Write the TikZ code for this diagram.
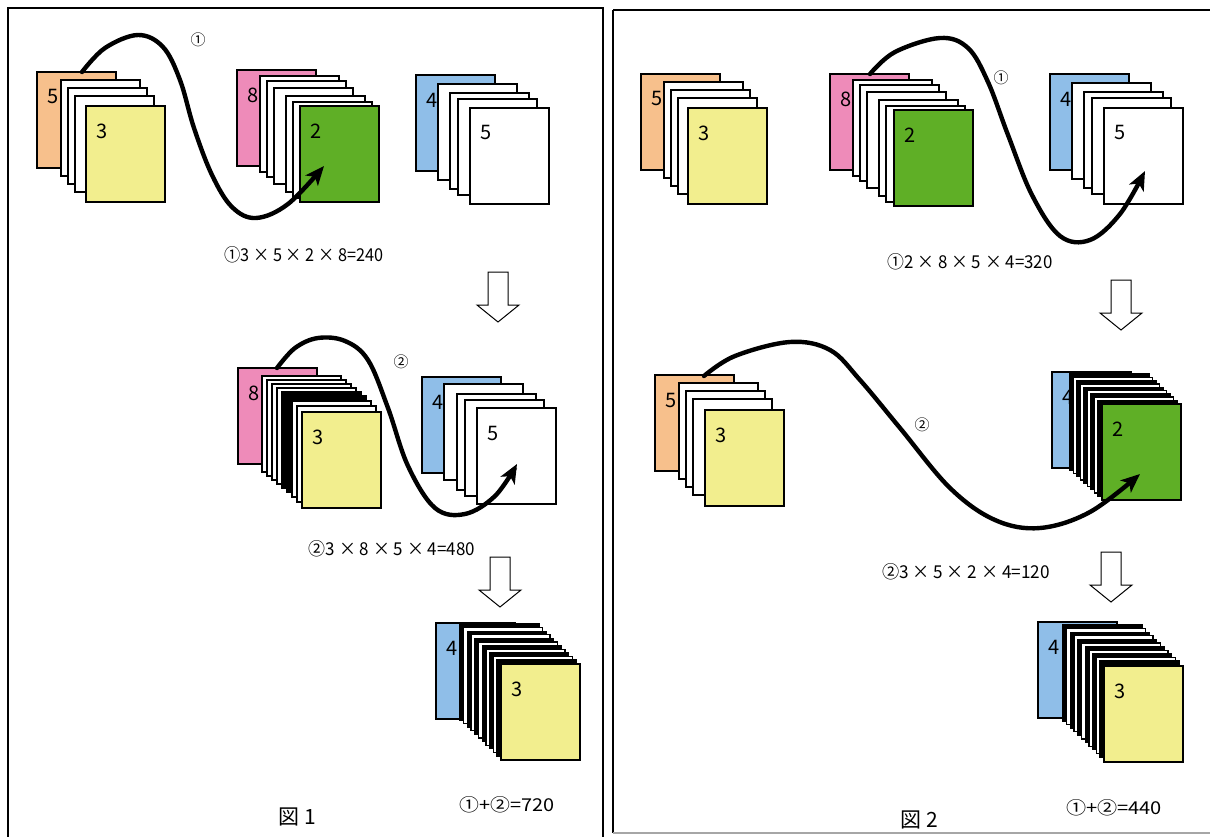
\documentclass[tikz,border=0pt]{standalone}
\usepackage{fontspec}
\newfontfamily\jp{Noto Sans CJK JP}
\usetikzlibrary{arrows.meta,calc}
\definecolor{corange}{HTML}{F7C08C}
\definecolor{cyellow}{HTML}{F2EE8E}
\definecolor{cpink}{HTML}{EE8BB9}
\definecolor{cgreen}{HTML}{5FAF26}
\definecolor{cblue}{HTML}{8FBEE8}
\tikzset{
  sheet/.style={draw=black, line width=1.3pt, minimum width=79pt, minimum height=96pt,
    anchor=north west, inner sep=0pt, outer sep=0pt},
  num/.style={font=\jp\fontsize{20}{20}\selectfont, inner sep=0pt},
  formula/.style={font=\jp\fontsize{17}{17}\selectfont, inner sep=0pt},
  caption/.style={font=\jp\fontsize{21}{21}\selectfont, inner sep=0pt},
  circ/.style={font=\jp\fontsize{15}{15}\selectfont, inner sep=0pt},
  curve/.style={line width=4.4pt, line cap=round, -{Stealth[length=19pt,width=16pt,inset=5pt]}},
  panel/.style={draw=black, line width=1.3pt},
  blockarr/.style={draw=black, line width=1pt, fill=white, line join=miter}
}
\newcommand\ftext[2]{\resizebox{#1pt}{15pt}{#2}}
\newcommand\sheetnode[5]{%
  \node[sheet, fill=#4] (#1) at (#2,#3) {};
  \node[num] (#1t) at ($(#1.north west)+(16,25)$) {#5};}
\newcommand\plainsheet[4]{\node[sheet, fill=#4] (#1) at (#2,#3) {};}
\newcommand\blockarrow[3]{% name, cx, ytop
  \coordinate (#1) at (#2,#3);
  \draw[blockarr] ($(#1)+(-10,0)$) -- ($(#1)+(10,0)$) -- ($(#1)+(10,33)$) -- ($(#1)+(21,33)$)
    -- ($(#1)+(0,50)$) -- ($(#1)+(-21,33)$) -- ($(#1)+(-10,33)$) -- cycle;}
\begin{document}
\begin{tikzpicture}[x=1pt,y=-1pt]
\useasboundingbox (0,0) rectangle (1210,837);
\fill[white] (0,0) rectangle (1210,837);
\clip (0,0) rectangle (1210,837);
% panels
\draw[panel] (8,8) rectangle (603,850);
\draw[panel] (613,10) -- (1215,10);
\draw[panel] (613,10) -- (613,833);
\draw[line width=1.3pt, draw=gray!70] (613,833) -- (1215,833);

% ================= PANEL 1 =================
% stack A
\sheetnode{A0}{37}{72}{corange}{5}
\plainsheet{A1}{61}{80}{white}
\plainsheet{A2}{68}{88}{white}
\plainsheet{A3}{75}{96}{white}
\sheetnode{A4}{86}{106}{cyellow}{3}
% stack B
\sheetnode{B0}{237}{70}{cpink}{8}
\plainsheet{B1}{260}{76}{white}
\plainsheet{B2}{267}{81}{white}
\plainsheet{B3}{274}{88}{white}
\plainsheet{B4}{286}{96}{white}
\plainsheet{B5}{293}{102}{white}
\sheetnode{B6}{300}{106}{cgreen}{2}
% stack C
\sheetnode{C0}{416}{75}{cblue}{4}
\plainsheet{C1}{438}{84}{white}
\plainsheet{C2}{450}{93}{white}
\plainsheet{C3}{458}{99}{white}
\sheetnode{C4}{470}{108}{white}{5}
% curve 1
\coordinate (p1s) at ($(A0.north west)+(45,0)$);
\coordinate (p1e) at ($(B6.north west)+(24,60)$);
\draw[curve] plot[smooth, tension=0.6] coordinates {(p1s) (105,48) (138,35) (163,47) (180,80) (194,128) (212,175) (232,207) (256,218) (288,204) (p1e)};
\node[circ] (l1a) at (198,40) {①};
\node[formula] (f1) at (304,255) {\ftext{159}{①3 × 5 × 2 × 8=240}};
\blockarrow{d1}{498}{272}

% stack D
\sheetnode{D0}{238}{368}{cpink}{8}
\foreach \xx/\yy/\cc [count=\i] in {262/376/white,267/380/white,272/384/white,277/388/white,282/392/black,287/396/black,292/401/white,297/406/white}{
  \node[sheet, fill=\cc] (D\i) at (\xx,\yy) {};
}
\sheetnode{D9}{302}{412}{cyellow}{3}
% stack E
\sheetnode{E0}{422}{377}{cblue}{4}
\plainsheet{E1}{444}{384}{white}
\plainsheet{E2}{457}{394}{white}
\plainsheet{E3}{465}{400}{white}
\sheetnode{E4}{477}{408}{white}{5}
% curve 2
\coordinate (p2s) at ($(D0.north west)+(39,0)$);
\coordinate (p2e) at ($(E4.north west)+(40,56)$);
\draw[curve] plot[smooth, tension=0.6] coordinates {(p2s) (295,348) (318,338) (345,341) (368,360) (388,408) (408,466) (435,508) (465,514) (495,496) (p2e)};
\node[circ] (l2a) at (401,362) {②};
\node[formula] (f2) at (392,549) {\ftext{166}{②3 × 8 × 5 × 4=480}};
\blockarrow{d2}{500}{557}

% stack F
\sheetnode{F0}{436}{623}{cblue}{4}
\foreach \i in {0,...,10}{
  \pgfmathsetmacro\xx{460+3.7*\i}
  \pgfmathsetmacro\yy{624+3.6*\i}
  \pgfmathtruncatemacro\od{mod(\i,2)}
  \ifnum\od=0 \def\cc{black}\else\def\cc{white}\fi
  \node[sheet, fill=\cc] (F\i x) at (\xx,\yy) {};
}
\sheetnode{F12}{501}{664}{cyellow}{3}
\node[formula] (s1) at (507,805) {\ftext{95}{①+②=720}};
\node[caption] (cap1) at (297,817) {図 1};

% ================= PANEL 2 =================
% stack G
\sheetnode{G0}{641}{74}{corange}{5}
\plainsheet{G1}{664}{82}{white}
\plainsheet{G2}{671}{90}{white}
\plainsheet{G3}{678}{98}{white}
\sheetnode{G4}{688}{108}{cyellow}{3}
% stack H
\sheetnode{H0}{830}{74}{cpink}{8}
\plainsheet{H1}{853}{80}{white}
\plainsheet{H2}{860}{85}{white}
\plainsheet{H3}{867}{92}{white}
\plainsheet{H4}{879}{100}{white}
\plainsheet{H5}{886}{106}{white}
\sheetnode{H6}{894}{110}{cgreen}{2}
% stack I
\sheetnode{I0}{1050}{74}{cblue}{4}
\plainsheet{I1}{1072}{83}{white}
\plainsheet{I2}{1084}{92}{white}
\plainsheet{I3}{1092}{98}{white}
\sheetnode{I4}{1104}{108}{white}{5}
% curve 1 (panel 2)
\coordinate (q1s) at ($(H0.north west)+(40,0)$);
\coordinate (q1e) at ($(I4.north west)+(41,63)$);
\draw[curve] plot[smooth, tension=0.6] coordinates {(q1s) (895,52) (940,38) (968,48) (988,82) (1008,135) (1032,195) (1060,236) (1090,240) (1120,214) (q1e)};
\node[circ] (l1b) at (1001,78) {①};
\node[formula] (f3) at (970,262) {\ftext{165}{①2 × 8 × 5 × 4=320}};
\blockarrow{d3}{1121}{280}

% stack J
\sheetnode{J0}{655}{375}{corange}{5}
\plainsheet{J1}{679}{383}{white}
\plainsheet{J2}{686}{391}{white}
\plainsheet{J3}{693}{399}{white}
\sheetnode{J4}{705}{410}{cyellow}{3}
% stack K
\sheetnode{K0}{1052}{372}{cblue}{4}
\foreach \i in {0,...,8}{
  \pgfmathsetmacro\xx{1070+3.5*\i}
  \pgfmathsetmacro\yy{374+3.3*\i}
  \pgfmathtruncatemacro\od{mod(\i,2)}
  \ifnum\od=0 \def\cc{black}\else\def\cc{white}\fi
  \node[sheet, fill=\cc] (K\i x) at (\xx,\yy) {};
}
\sheetnode{K10}{1102}{404}{cgreen}{2}
% curve 2 (panel 2)
\coordinate (q2s) at ($(J0.north west)+(49,1)$);
\coordinate (q2e) at ($(K10.north west)+(38,70)$);
\draw[curve] plot[smooth, tension=0.6] coordinates {(q2s) (735,356) (790,342) (830,350) (860,380) (900,428) (950,488) (995,520) (1040,528) (1090,512) (q2e)};
\node[circ] (l2b) at (922,425) {②};
\node[formula] (f4) at (966,572) {\ftext{168}{②3 × 5 × 2 × 4=120}};
\blockarrow{d4}{1111}{552}

% stack L
\sheetnode{L0}{1038}{622}{cblue}{4}
\foreach \i in {0,...,10}{
  \pgfmathsetmacro\xx{1063+3.7*\i}
  \pgfmathsetmacro\yy{625+3.6*\i}
  \pgfmathtruncatemacro\od{mod(\i,2)}
  \ifnum\od=0 \def\cc{black}\else\def\cc{white}\fi
  \node[sheet, fill=\cc] (L\i x) at (\xx,\yy) {};
}
\sheetnode{L12}{1104}{666}{cyellow}{3}
\node[formula] (s2) at (1114,808) {\ftext{96}{①+②=440}};
\node[caption] (cap2) at (919,820) {図 2};
\end{tikzpicture}
\end{document}
